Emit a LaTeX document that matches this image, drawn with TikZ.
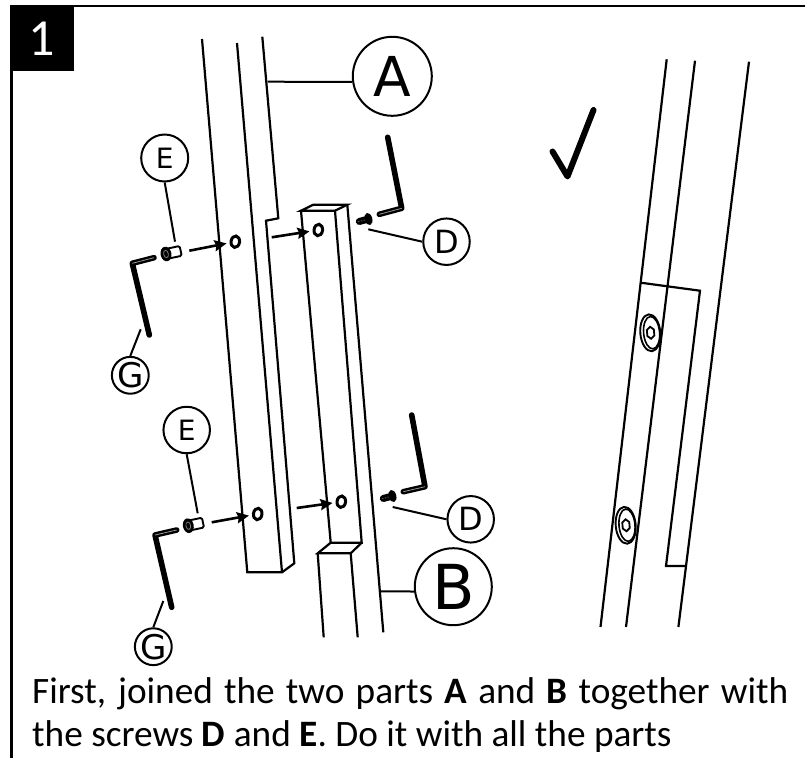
\documentclass[tikz,border=0pt]{standalone}
\usepackage{fontspec}
\setmainfont{Carlito}
\newfontfamily\lab{DejaVu Sans}
\usetikzlibrary{arrows.meta,shapes.geometric}
\tikzset{
 ln/.style={line width=2.2pt,line cap=butt,line join=miter},
 lead/.style={line width=2pt},
 keyline/.style={line width=5.6pt,line cap=round,line join=round},
 bub/.style={circle,draw,line width=2pt,fill=white,inner sep=0pt,font=\lab},
 hole/.style={ellipse,draw,line width=3pt,inner sep=0pt,minimum width=8.5pt,minimum height=11.5pt,rotate=-8},
 arr/.style={line width=2.6pt,shorten >=3pt,-{Stealth[length=12pt,width=11pt,inset=1.5pt]}},
 txt/.style={anchor=base west,inner sep=0pt,font=\fontsize{37.3}{37.3}\selectfont},
}
\newcommand{\allenkey}[3]{%
  \draw[keyline] #1 -- #2 -- #3;
  \draw[line width=0.7pt,white!65!black] #2 -- #3;
}
\newcommand{\screwE}[2]{%
 \begin{scope}[shift={(#1,#2)},rotate=12]
  \draw[line width=1.9pt,fill=white,rounded corners=1.5pt] (0,-5) rectangle (15,5);
  \fill[black] (0,0) ellipse [x radius=5.4,y radius=7.4];
  \draw[white!50!black,line width=0.7pt] (0,0) ellipse [x radius=2.3,y radius=3.8];
 \end{scope}}
\newcommand{\screwD}[2]{%
 \begin{scope}[shift={(#1,#2)},rotate=15]
  \draw[line width=7pt,line cap=round] (-9.5,0) -- (0,0);
  \draw[white!50!black,line width=0.7pt,dash pattern=on 1.5pt off 1.5pt] (-11,0) -- (-1,0);
  \fill[black] (0,0) ellipse [x radius=3.8,y radius=6.2];
 \end{scope}}
\newcommand{\bolt}[2]{%
 \begin{scope}[shift={(#1,#2)},rotate=5]
  \draw[line width=1.9pt,fill=white] (0,0) ellipse [x radius=10,y radius=18.5];
  \draw[line width=1.6pt] (1.3,0) ellipse [x radius=8,y radius=16.2];
  \draw[line width=1.8pt,line join=miter] (0.3,-6) -- (3.8,-3) -- (3.8,3) -- (0.3,6) -- (-3.2,3) -- (-3.2,-3) -- cycle;
 \end{scope}}
\begin{document}
\begin{tikzpicture}[x=1pt,y=-1pt]
\useasboundingbox (0,0) rectangle (805,758);
\fill[white] (0,0) rectangle (805,758);
% frame
\draw[line width=2.5pt] (11.5,758) -- (11.5,6) -- (805,6);
\fill[black] (11,5) rectangle (73.5,70.7);
\node[text=white,font=\fontsize{52}{52}\selectfont,inner sep=0pt] (one) at (41.5,39) {1};
% Part A
\draw[ln] (202,39) -- (247.3,572.3) -- (282,572.3) -- (294.3,563.3) -- (266,220.7) -- (278.3,218.3) -- (262.3,36.7);
\draw[ln] (237,43) -- (282,572.3);
% Part B, upper
\draw[ln] (335,210.7) -- (301,210.7) -- (313.3,204.7) -- (347.3,204.7) -- cycle;
\draw[ln] (301,210.7) -- (330.7,542.7) -- (361.7,542.7) -- (335,210.7);
\draw[ln] (347.3,204.7) -- (383.3,632.3);
% Part B, lower
\draw[ln] (330.7,542.7) -- (317.7,553.3) -- (350.7,553.3) -- (361.7,542.7);
\draw[ln] (317.7,553.3) -- (323.7,637.3);
\draw[ln] (350.7,553.3) -- (357.7,637.3);
% holes
\node[hole] (h1) at (235.3,241.7) {};
\node[hole] (h2) at (318.3,230) {};
\node[hole] (h3) at (257.7,514) {};
\node[hole] (h4) at (341.3,501.7) {};
% arrows
\coordinate (a1) at (189.3,250.7);
\coordinate (a2) at (271.7,237.3);
\coordinate (a3) at (211.7,522.3);
\coordinate (a4) at (296.7,508);
\draw[arr] (a1) -- (h1);
\draw[arr] (a2) -- (h2);
\draw[arr] (a3) -- (h3);
\draw[arr] (a4) -- (h4);
% hex keys
\allenkey{(387.7,137.3)}{(401.7,208.3)}{(379.3,214.3)}
\allenkey{(411.7,415)}{(425,486.7)}{(403.3,491.7)}
\allenkey{(149.3,335)}{(132.3,263.3)}{(154,257.7)}
\allenkey{(171.7,607.3)}{(155,535)}{(176.7,530)}
% screws
\screwE{166}{254}
\screwE{188.3}{525.7}
\screwD{368.5}{219}
\screwD{392.5}{496}
% bubbles
\node[bub,minimum size=79pt,font=\lab\fontsize{55}{55}\selectfont] (A) at (392.3,76.3) {A};
\node[bub,minimum size=77pt,font=\lab\fontsize{62}{62}\selectfont] (B) at (453.3,586.7) {B};
\node[bub,minimum size=47pt,font=\lab\fontsize{28}{28}\selectfont] (E1) at (164.7,158) {E};
\node[bub,minimum size=46.5pt,font=\lab\fontsize{28}{28}\selectfont] (E2) at (186.7,430) {E};
\node[bub,minimum size=46.5pt,font=\lab\fontsize{32}{32}\selectfont] (D1) at (446.5,241.7) {D};
\node[bub,minimum size=46.5pt,font=\lab\fontsize{32}{32}\selectfont] (D2) at (470.7,519.3) {D};
\node[bub,minimum size=36pt,font=\lab\fontsize{34}{34}\selectfont] (G1) at (130.3,375.3) {G};
\node[bub,minimum size=36pt,font=\lab\fontsize{34}{34}\selectfont] (G2) at (153.3,646.7) {G};
% leaders
\coordinate (la) at (267.7,81.7);
\coordinate (lb) at (380.7,591.3);
\coordinate (le1) at (175,241.7);
\coordinate (le2) at (197.7,513.3);
\coordinate (ld1) at (368.3,229.3);
\coordinate (ld2) at (392.7,507);
\coordinate (lg1) at (140.7,329.3);
\coordinate (lg2) at (163.3,601);
\draw[lead] (la) -- (A.188);
\draw[lead] (lb) -- (B.187);
\draw[lead] (le1) -- (E1.south);
\draw[lead] (le2) -- (E2.south);
\draw[lead] (ld1) -- (D1.west);
\draw[lead] (ld2) -- (D2.west);
\draw[lead] (lg1) -- (G1.north);
\draw[lead] (lg2) -- (G2.north);
% check mark
\draw[line width=6pt,line cap=round,line join=round] (552.5,151.5) -- (567.5,176.5) -- (593.5,110);
% assembled view
\draw[ln] (666.7,59.3) -- (600.5,627);
\draw[ln] (695,60.7) -- (626,627);
\draw[ln] (749,61.7) -- (678.4,627);
\draw[ln] (640.7,282.7) -- (700,290.7) -- (666,566) -- (685.7,566);
\bolt{650.3}{332.8}
\bolt{625.7}{525.3}
% caption
\node[txt] (t1) at (32,703) {\hbox to 756pt{First, joined the two parts \textbf{A} and \textbf{B} together with}};
\node[txt] (t2) at (32,746) {the screws \textbf{D} and \textbf{E}. Do it with all the parts};
\end{tikzpicture}
\end{document}
